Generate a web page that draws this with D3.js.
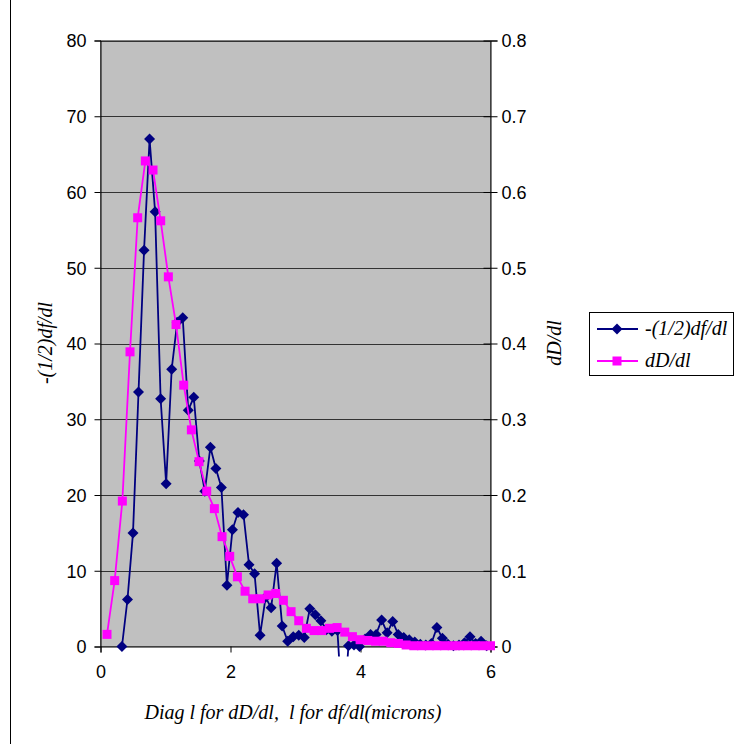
<!DOCTYPE html>
<html>
<head>
<meta charset="utf-8">
<script src="https://cdn.jsdelivr.net/npm/d3@7"></script>
<style>
  body { margin: 0; background: #fff; }
  svg { display: block; }
</style>
</head>
<body>
<svg id="chart" width="735" height="744"></svg>
<script>
// -(1/2)df/dl, left axis
var dfX = [0.33, 0.415, 0.5, 0.585, 0.67, 0.755, 0.84, 0.925, 1.01, 1.095,
  1.18, 1.265, 1.35, 1.435, 1.52, 1.605, 1.69, 1.775, 1.86, 1.945,
  2.03, 2.115, 2.2, 2.285, 2.37, 2.455, 2.54, 2.625, 2.71, 2.795,
  2.88, 2.965, 3.05, 3.135, 3.22, 3.305, 3.39, 3.475, 3.56, 3.645,
  3.73, 3.815, 3.9, 3.985, 4.07, 4.155, 4.24, 4.325, 4.41, 4.495,
  4.58, 4.665, 4.75, 4.835, 4.92, 5.005, 5.09, 5.175, 5.26, 5.345,
  5.43, 5.515, 5.6, 5.685, 5.77, 5.855, 5.94];
var dfY = [0, 6.2, 15.0, 33.6, 52.3, 67.0, 57.4, 32.7, 21.5, 36.6,
  42.8, 43.4, 31.2, 32.9, 24.5, 20.5, 26.3, 23.5, 21.0, 8.1,
  15.4, 17.7, 17.4, 10.8, 9.6, 1.5, 6.5, 5.1, 11.0, 2.7,
  0.7, 1.3, 1.5, 1.2, 5.0, 4.2, 3.4, 2.2, 2.0, 2.1,
  -10, 0.1, 0.2, 0, 1.0, 1.6, 1.6, 3.5, 1.8, 3.3,
  1.6, 1.2, 0.9, 0.6, 0.3, 0.2, 0.4, 2.5, 1.1, 0.3,
  0.1, 0.2, 0.5, 1.3, 0.4, 0.7, 0.1];

// dD/dl, right axis
var dDX = [0.1, 0.218, 0.336, 0.454, 0.572, 0.69, 0.808, 0.926, 1.044, 1.162,
  1.28, 1.398, 1.516, 1.634, 1.752, 1.87, 1.988, 2.106, 2.224, 2.342,
  2.46, 2.578, 2.696, 2.814, 2.932, 3.05, 3.168, 3.286, 3.404, 3.522,
  3.64, 3.758, 3.876, 3.994, 4.112, 4.23, 4.348, 4.466, 4.584, 4.702,
  4.82, 4.938, 5.056, 5.174, 5.292, 5.41, 5.528, 5.646, 5.764, 5.882, 6.0];
var dDY = [0.016, 0.087, 0.192, 0.389, 0.566, 0.641, 0.629, 0.562, 0.488, 0.425,
  0.345, 0.286, 0.244, 0.205, 0.182, 0.145, 0.119, 0.092, 0.073, 0.063,
  0.063, 0.068, 0.070, 0.061, 0.046, 0.034, 0.024, 0.021, 0.021, 0.024,
  0.025, 0.019, 0.013, 0.009, 0.008, 0.007, 0.007, 0.005, 0.004, 0.002,
  0.001, 0.001, 0.001, 0.001, 0.001, 0.001, 0.001, 0.001, 0.001, 0.001, 0.001];

var xTicks = [0, 2, 4, 6];
var leftTicks = [0, 10, 20, 30, 40, 50, 60, 70, 80];
var rightTicks = [0, 0.1, 0.2, 0.3, 0.4, 0.5, 0.6, 0.7, 0.8];

var plot = { left: 100.5, right: 490.5, top: 40.5, bottom: 646.5 };
var svg = d3.select("#chart");

// chart area edge
svg.append("line").attr("x1", 10.5).attr("x2", 10.5).attr("y1", 0).attr("y2", 744)
  .attr("stroke", "#000").attr("stroke-width", 1);

var x = d3.scaleLinear().domain([0, 6]).range([plot.left, plot.right]);
var yL = d3.scaleLinear().domain([0, 80]).range([plot.bottom, plot.top]);
var yR = d3.scaleLinear().domain([0, 0.8]).range([plot.bottom, plot.top]);

svg.append("rect")
  .attr("x", plot.left).attr("y", plot.top)
  .attr("width", plot.right - plot.left).attr("height", plot.bottom - plot.top)
  .attr("fill", "#c0c0c0").attr("stroke", "#808080");

// gridlines
svg.append("g").selectAll("line").data(leftTicks.slice(1)).enter().append("line")
  .attr("x1", plot.left).attr("x2", plot.right)
  .attr("y1", function (d) { return Math.round(yL(d)) + 0.5; })
  .attr("y2", function (d) { return Math.round(yL(d)) + 0.5; })
  .attr("stroke", "#333").attr("stroke-width", 1);

var tickFont = "'Liberation Sans', Arial, sans-serif";

// left axis
var gl = svg.append("g").attr("transform", "translate(" + plot.left + ",0)")
  .call(d3.axisLeft(yL).tickValues(leftTicks).tickSize(6).tickPadding(8).tickFormat(d3.format("d")));
// right axis
var gr = svg.append("g").attr("transform", "translate(" + plot.right + ",0)")
  .call(d3.axisRight(yR).tickValues(rightTicks).tickSize(7).tickPadding(4)
    .tickFormat(function (d) { return d === 0 ? "0" : d3.format(".1f")(d); }));
gr.selectAll(".tick line").attr("x1", -7);
// bottom axis
var gb = svg.append("g").attr("transform", "translate(0," + plot.bottom + ")")
  .call(d3.axisBottom(x).tickValues(xTicks).tickSize(6).tickPadding(13).tickFormat(d3.format("d")));

[gl, gr, gb].forEach(function (g) {
  g.select(".domain").attr("stroke", "#000");
  g.selectAll(".tick line").attr("stroke", "#000");
  g.selectAll(".tick text").attr("font-family", tickFont).attr("font-size", "18px").attr("fill", "#000");
});
gl.selectAll(".tick text").attr("dy", "0.36em");
gr.selectAll(".tick text").attr("dy", "0.36em");

// series
svg.append("clipPath").attr("id", "clip").append("rect")
  .attr("x", plot.left - 10).attr("y", plot.top - 10)
  .attr("width", plot.right - plot.left + 20).attr("height", plot.bottom - plot.top + 20);

var dfData = dfX.map(function (d, i) { return [d, dfY[i]]; });
var dDData = dDX.map(function (d, i) { return [d, dDY[i]]; });

var navy = "#000080", mag = "#ff00ff";
var diamond = "M0,-5.5L5.5,0L0,5.5L-5.5,0Z";
var series = svg.append("g").attr("clip-path", "url(#clip)");

series.append("path").datum(dfData)
  .attr("d", d3.line().x(function (d) { return x(d[0]); }).y(function (d) { return yL(d[1]); }))
  .attr("fill", "none").attr("stroke", navy).attr("stroke-width", 1.8);
series.append("g").selectAll("path").data(dfData.filter(function (d) { return d[1] >= 0; }))
  .enter().append("path")
  .attr("d", diamond)
  .attr("transform", function (d) { return "translate(" + x(d[0]) + "," + yL(d[1]) + ")"; })
  .attr("fill", navy);

series.append("path").datum(dDData)
  .attr("d", d3.line().x(function (d) { return x(d[0]); }).y(function (d) { return yR(d[1]); }))
  .attr("fill", "none").attr("stroke", mag).attr("stroke-width", 1.8);
series.append("g").selectAll("rect").data(dDData).enter().append("rect")
  .attr("x", function (d) { return x(d[0]) - 4.5; })
  .attr("y", function (d) { return yR(d[1]) - 4.5; })
  .attr("width", 9).attr("height", 9)
  .attr("fill", mag);

// axis titles
var titleFont = "'Liberation Serif', 'Times New Roman', serif";
svg.append("text")
  .attr("transform", "translate(52,343) rotate(-90)")
  .attr("text-anchor", "middle")
  .attr("font-family", titleFont).attr("font-style", "italic").attr("font-size", "20px")
  .text("-(1/2)df/dl");
svg.append("text")
  .attr("transform", "translate(561,343) rotate(-90)")
  .attr("text-anchor", "middle")
  .attr("font-family", titleFont).attr("font-style", "italic").attr("font-size", "20px")
  .text("dD/dl");
svg.append("text")
  .attr("x", 293).attr("y", 719)
  .attr("text-anchor", "middle")
  .attr("font-family", titleFont).attr("font-style", "italic").attr("font-size", "20px")
  .attr("xml:space", "preserve")
  .text("Diag l for dD/dl,  l for df/dl(microns)");

// legend
var lg = svg.append("g");
lg.append("rect").attr("x", 589.5).attr("y", 312.5).attr("width", 144).attr("height", 63)
  .attr("fill", "#fff").attr("stroke", "#000");
var legendItems = [
  { name: "-(1/2)df/dl", color: navy, y: 329, shape: "diamond" },
  { name: "dD/dl", color: mag, y: 361, shape: "square" }
];
legendItems.forEach(function (it) {
  lg.append("line").attr("x1", 597).attr("x2", 638).attr("y1", it.y).attr("y2", it.y)
    .attr("stroke", it.color).attr("stroke-width", 1.8);
  if (it.shape === "diamond") {
    lg.append("path").attr("d", diamond)
      .attr("transform", "translate(617," + it.y + ")")
      .attr("fill", it.color);
  } else {
    lg.append("rect").attr("x", 612.5).attr("y", it.y - 4.5).attr("width", 9).attr("height", 9)
      .attr("fill", it.color);
  }
  lg.append("text").attr("x", 645).attr("y", it.y + 6)
    .attr("font-family", titleFont).attr("font-style", "italic").attr("font-size", "20px")
    .text(it.name);
});
</script>
</body>
</html>
